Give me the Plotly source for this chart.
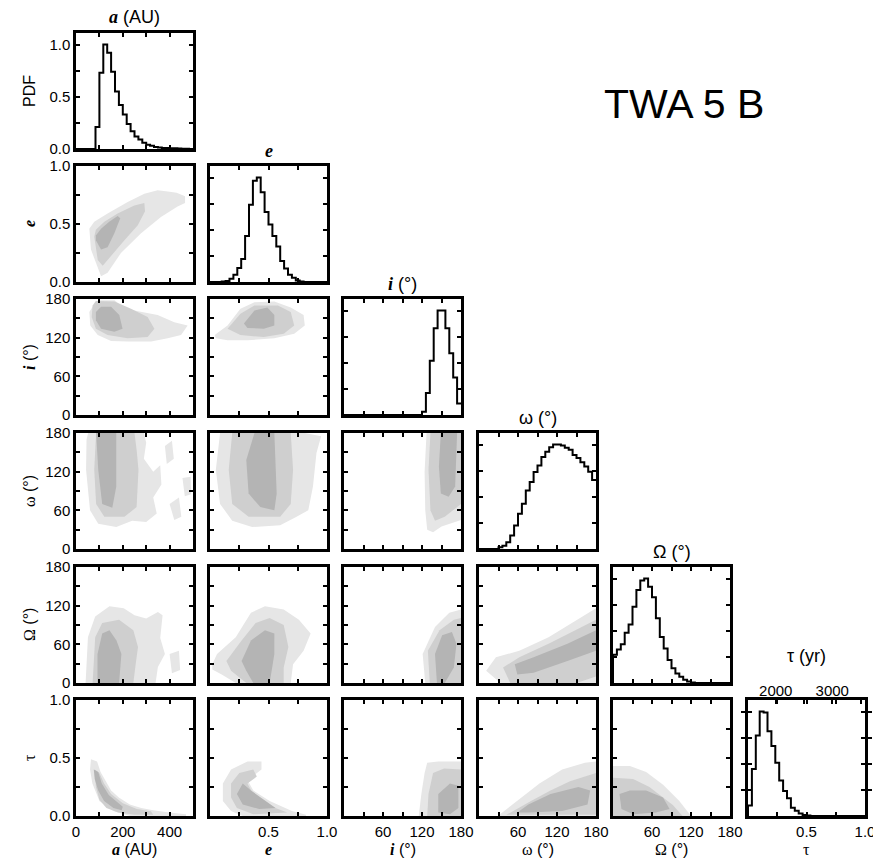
import numpy as np
import plotly.graph_objects as go

W, H = 881, 860
OX, OY = 8, 8             # page body margin
FW, FH = W - OX, H - OY   # figure size that fits the window

# marginal PDFs, 30 bins per parameter, peak = 1
hist_a = [0, 0, 0, 0, 0, 0.21, 0.73, 1.0, 0.92, 0.74, 0.55, 0.42, 0.33, 0.24, 0.17,
          0.12, 0.09, 0.06, 0.04, 0.03, 0.02, 0.015, 0.01, 0.01, 0.008, 0.006, 0.004, 0.003, 0.002, 0]
hist_e = [0, 0, 0, 0.005, 0.01, 0.03, 0.07, 0.135, 0.22, 0.44, 0.74, 0.97, 1.0, 0.86, 0.67,
          0.55, 0.44, 0.34, 0.2, 0.13, 0.07, 0.04, 0.015, 0.005, 0, 0, 0, 0, 0, 0]
hist_i = [0, 0, 0, 0, 0, 0, 0, 0, 0, 0, 0, 0, 0, 0, 0,
          0, 0, 0, 0, 0, 0.03, 0.21, 0.52, 0.83, 1.0, 1.0, 0.83, 0.59, 0.36, 0.11]
hist_w = [0, 0, 0, 0, 0, 0.016, 0.03, 0.064, 0.128, 0.224, 0.337, 0.433, 0.56, 0.64, 0.737,
          0.8, 0.88, 0.93, 0.974, 1.0, 1.0, 0.99, 0.97, 0.95, 0.9, 0.87, 0.83, 0.79, 0.74, 0.66]
hist_O = [0.27, 0.32, 0.37, 0.48, 0.56, 0.73, 0.89, 0.98, 1.0, 0.92, 0.82, 0.62, 0.44, 0.33, 0.22,
          0.14, 0.09, 0.06, 0.03, 0.015, 0.005, 0, 0, 0, 0, 0, 0, 0, 0, 0]
hist_t = [0.1, 0.45, 0.77, 1.0, 0.99, 0.81, 0.67, 0.51, 0.34, 0.24, 0.17, 0.08, 0.05, 0.025, 0.01,
          0.004, 0, 0, 0, 0, 0, 0, 0, 0, 0, 0, 0, 0, 0, 0]

c_a_e = [
    [(57, .46), (78, .52), (135, .59), (221, .69), (292, .76), (349, .79), (392, .78), (430, .77),
     (466, .74), (466, .68), (434, .65), (363, .56), (278, .42), (192, .25), (135, .08), (107, .05), (64, .28)],
    [(78, .39), (85, .45), (121, .52), (178, .59), (249, .66), (292, .68), (295, .61), (264, .49),
     (207, .36), (150, .22), (114, .14), (93, .19)],
    [(85, .36), (85, .40), (107, .46), (142, .52), (178, .57), (189, .55), (164, .42), (135, .30), (107, .28)],
]
c_a_i = [
    [(57, 160), (78, 172), (100, 178), (165, 178), (192, 170), (249, 162), (349, 155), (420, 144),
     (477, 139), (449, 124), (392, 119), (321, 114), (221, 114), (150, 115), (93, 124), (61, 139)],
    [(71, 170), (85, 177), (164, 176), (235, 165), (306, 152), (335, 134), (306, 121), (221, 119),
     (135, 124), (85, 134), (67, 152)],
    [(85, 160), (107, 168), (150, 168), (185, 155), (199, 134), (164, 129), (107, 134), (85, 147)],
]
c_e_i = [
    [(.04, 124), (.15, 139), (.26, 165), (.38, 175), (.55, 176), (.69, 167), (.80, 155), (.81, 139),
     (.72, 126), (.55, 119), (.32, 116), (.15, 116), (.05, 119)],
    [(.15, 134), (.26, 157), (.38, 170), (.58, 170), (.69, 160), (.72, 139), (.63, 126), (.46, 121), (.26, 124)],
    [(.29, 142), (.38, 162), (.49, 167), (.55, 155), (.55, 139), (.46, 134), (.32, 135)],
]
c_a_w = [
    [(52, 180), (290, 180), (300, 165), (290, 140), (330, 120), (360, 130), (365, 100), (330, 80),
     (345, 55), (300, 42), (240, 44), (172, 34), (95, 39), (60, 60), (43, 123), (45, 170), None,
     (380, 160), (410, 168), (418, 140), (388, 132), None,
     (400, 70), (440, 80), (450, 50), (420, 45), None,
     (455, 110), (490, 112), (492, 85), (465, 82)],
    [(86, 180), (250, 180), (259, 154), (267, 123), (259, 65), (207, 50), (121, 50), (86, 70), (78, 123)],
    [(86, 180), (172, 180), (172, 97), (155, 64), (112, 70), (95, 123)],
]
c_e_w = [
    [(.086, 180), (.81, 180), (.95, 175), (.91, 149), (.88, 97), (.84, 60), (.74, 50), (.6, 37),
     (.36, 34), (.19, 44), (.086, 70), (.05, 123)],
    [(.19, 180), (.69, 180), (.71, 123), (.69, 70), (.6, 50), (.33, 50), (.19, 70), (.16, 123)],
    [(.38, 180), (.55, 180), (.57, 86), (.55, 60), (.43, 65), (.33, 86), (.31, 138)],
]
c_i_w = [
    [(127, 180), (180, 180), (180, 45), (165, 40), (150, 35), (137, 26), (128, 30), (125, 60), (124, 120)],
    [(133, 180), (180, 180), (180, 70), (155, 50), (140, 44), (133, 60), (130, 123)],
    [(149, 180), (174, 180), (171, 97), (161, 81), (149, 86), (146, 128)],
]
c_a_O = [
    [(41, 0), (45, 40), (51, 71), (82, 103), (143, 119), (204, 116), (250, 105), (300, 100), (350, 110),
     (370, 105), (360, 70), (380, 45), (350, 25), (340, 0), None,
     (400, 45), (440, 50), (445, 20), (410, 15)],
    [(71, 0), (82, 71), (112, 93), (184, 98), (245, 82), (265, 56), (255, 29), (245, 0)],
    [(92, 0), (92, 45), (112, 77), (143, 82), (173, 66), (194, 45), (184, 0)],
]
c_e_O = [
    [(.02, 29), (.06, 45), (.22, 71), (.35, 109), (.47, 119), (.63, 114), (.76, 98), (.86, 77),
     (.80, 50), (.71, 29), (.69, 0), (.22, 0), (.10, 13), (.02, 21)],
    [(.14, 34), (.27, 66), (.39, 93), (.51, 101), (.63, 90), (.67, 56), (.63, 24), (.63, 0), (.31, 0), (.18, 19)],
    [(.27, 34), (.35, 66), (.47, 82), (.55, 77), (.55, 45), (.51, 0), (.37, 0), (.31, 19)],
]
c_i_O = [
    [(125, 0), (121, 45), (140, 87), (162, 109), (180, 114), (180, 0)],
    [(132, 0), (129, 50), (147, 82), (169, 98), (180, 101), (180, 0)],
    [(143, 0), (140, 45), (151, 74), (166, 79), (173, 61), (169, 24), (155, 0)],
]
c_w_O = [
    [(33, 0), (11, 19), (26, 40), (62, 50), (107, 71), (151, 98), (180, 116), (180, 0)],
    [(48, 0), (37, 24), (62, 40), (107, 61), (158, 87), (180, 98), (180, 10), (150, 0)],
    [(59, 13), (55, 29), (84, 40), (136, 61), (180, 82), (180, 50), (136, 34), (84, 16)],
]
c_a_t = [
    [(64, .49), (90, .47), (105, .38), (124, .31), (150, .22), (183, .16), (230, .10), (279, .07),
     (330, .05), (398, .03), (470, .015), (470, 0), (231, 0), (160, .044), (100, .13), (70, .28), (60, .40)],
    [(80, .40), (100, .37), (120, .28), (150, .19), (200, .11), (260, .06), (320, .04), (330, .01),
     (250, .01), (180, .03), (130, .07), (100, .14), (85, .25)],
    [(76, .40), (95, .38), (110, .28), (140, .18), (200, .08), (195, .05), (160, .07), (120, .13), (95, .22), (80, .32)],
]
c_e_t = [
    [(.11, .28), (.18, .40), (.32, .47), (.44, .47), (.44, .40), (.32, .31), (.37, .22), (.51, .13),
     (.70, .044), (.82, .01), (.82, 0), (.28, 0), (.18, .044), (.11, .13)],
    [(.18, .28), (.25, .37), (.37, .40), (.40, .34), (.32, .28), (.37, .19), (.56, .07), (.66, .03),
     (.37, .015), (.23, .07), (.18, .16)],
    [(.23, .19), (.28, .28), (.35, .22), (.47, .13), (.56, .068), (.42, .06), (.28, .10)],
]
c_i_t = [
    [(128, .46), (145, .47), (180, .47), (180, 0), (115, 0), (119, .19), (124, .37)],
    [(137, .37), (154, .41), (180, .40), (180, 0), (128, 0), (130, .19)],
    [(145, .19), (163, .28), (176, .26), (176, .07), (163, .015), (145, .03)],
]
c_w_t = [
    [(29, 0), (59, .13), (93, .28), (128, .40), (163, .46), (180, .47), (180, 0)],
    [(42, .01), (60, .07), (80, .13), (110, .22), (140, .30), (180, .37), (180, .01)],
    [(59, .03), (76, .10), (110, .19), (153, .25), (171, .22), (167, .10), (128, .044), (76, .03)],
]
c_O_t = [
    [(0, .43), (26, .43), (51, .38), (77, .27), (102, .13), (120, 0), (0, 0)],
    [(0, .33), (31, .32), (56, .25), (92, .095), (107, 0), (0, 0)],
    [(10, .19), (26, .22), (51, .22), (77, .16), (87, .06), (66, .03), (31, .016), (13, .06)],
]

params = ["a", "e", "i", "w", "O", "t"]
hists = [hist_a, hist_e, hist_i, hist_w, hist_O, hist_t]
ranges = {"a": [0, 500], "e": [0, 1], "i": [0, 180], "w": [0, 180], "O": [0, 180], "t": [0, 1]}
tickv = {"a": [0, 100, 200, 300, 400, 500], "e": [0, .25, .5, .75, 1], "t": [0, .25, .5, .75, 1],
         "i": [0, 30, 60, 90, 120, 150, 180], "w": [0, 30, 60, 90, 120, 150, 180], "O": [0, 30, 60, 90, 120, 150, 180]}
xlab = {"a": ["0", "", "200", "", "400", ""], "e": ["", "", "0.5", "", "1.0"], "t": ["", "", "0.5", "", "1.0"],
        "i": ["", "", "60", "", "120", "", "180"], "w": ["", "", "60", "", "120", "", "180"],
        "O": ["", "", "60", "", "120", "", "180"]}
ylab = {"e": ["0.0", "", "0.5", "", "1.0"], "t": ["0.0", "", "0.5", "", "1.0"],
        "i": ["0", "", "60", "", "120", "", "180"], "w": ["0", "", "60", "", "120", "", "180"],
        "O": ["0", "", "60", "", "120", "", "180"]}
contours = {("a", "e"): c_a_e, ("a", "i"): c_a_i, ("e", "i"): c_e_i,
            ("a", "w"): c_a_w, ("e", "w"): c_e_w, ("i", "w"): c_i_w,
            ("a", "O"): c_a_O, ("e", "O"): c_e_O, ("i", "O"): c_i_O, ("w", "O"): c_w_O,
            ("a", "t"): c_a_t, ("e", "t"): c_e_t, ("i", "t"): c_i_t, ("w", "t"): c_w_t, ("O", "t"): c_O_t}
shades = ["#e6e6e6", "#cfcfcf", "#b4b4b4"]

# panel frames in page pixels
col_left = [76, 210, 344, 479, 613, 748]
row_top = [33, 166, 299, 433, 567, 700]
pw, ph = 117, 116


def fx(px):
    return (px - OX) / FW


def fy(py):
    return 1 - (py - OY) / FH


fig = go.Figure()
layout = {}
font = dict(family="Liberation Sans, Arial", size=15, color="black")
axis_style = dict(tickmode="array", ticks="inside", ticklen=4, tickwidth=1.5, tickcolor="black",
                  showline=True, linewidth=2.5, linecolor="black", mirror="allticks",
                  showgrid=False, zeroline=False, tickfont=font, automargin=False)
k = 0
for r in range(6):
    for c in range(r + 1):
        k += 1
        xs = "" if k == 1 else str(k)
        px_, py_ = params[c], params[r]
        xa = dict(domain=[fx(col_left[c]), fx(col_left[c] + pw)], range=ranges[px_],
                  tickvals=tickv[px_],
                  ticktext=xlab[px_] if r == 5 else [""] * len(tickv[px_]),
                  anchor="y" + xs, **axis_style)
        if r == c:
            yv = [0, .25, .5, .75, 1]
            yt = ["0.0", "", "0.5", "", "1.0"] if c == 0 else [""] * 5
            yr = [0, 1.11]
        else:
            yv = tickv[py_]
            yt = ylab[py_] if c == 0 else [""] * len(yv)
            yr = ranges[py_]
        ya = dict(domain=[fy(row_top[r] + ph), fy(row_top[r])], range=yr,
                  tickvals=yv, ticktext=yt, anchor="x" + xs, **axis_style)
        layout["xaxis" + xs] = xa
        layout["yaxis" + xs] = ya
        if r == c:
            h = hists[c]
            edges = np.linspace(ranges[px_][0], ranges[px_][1], len(h) + 1)
            fig.add_trace(go.Scatter(x=[edges[0]] + list(edges), y=[0] + h + [h[-1]],
                                     mode="lines", line=dict(color="black", width=2, shape="hv"),
                                     xaxis="x" + xs, yaxis="y" + xs, showlegend=False, hoverinfo="skip"))
        else:
            for lvl, poly in enumerate(contours[(px_, py_)]):
                fig.add_trace(go.Scatter(
                    x=[p[0] if p else None for p in poly], y=[p[1] if p else None for p in poly],
                    mode="lines", fill="toself", fillcolor=shades[lvl], line=dict(width=0),
                    xaxis="x" + xs, yaxis="y" + xs, showlegend=False, hoverinfo="skip"))
        if r == 5 and c == 5:
            tau_k = xs

# top epoch axis of the tau panel
top_style = dict(axis_style)
top_style.update(showline=False, mirror=False)
layout["xaxis30"] = dict(overlaying="x" + tau_k, side="top", anchor="y" + tau_k, range=[1509, 3579],
                         tickvals=[2000, 2500, 3000, 3500], ticktext=["2000", "", "3000", ""], **top_style)
fig.add_trace(go.Scatter(x=[2000, 3000], y=[0, 0], mode="markers", opacity=0,
                         xaxis="x30", yaxis="y" + tau_k, showlegend=False, hoverinfo="skip"))

SER = "<span style='font-family:Liberation Serif'>"
lab_top = [SER + "<b><i>a</i></b></span> (AU)", SER + "<b><i>e</i></b></span>",
           SER + "<b><i>i</i></b></span> (°)", "ω (°)", "Ω (°)", "τ (yr)"]
lab_bot = [SER + "<b><i>a</i></b></span> (AU)", SER + "<b><i>e</i></b></span>",
           SER + "<b><i>i</i></b></span> (°)", SER + "ω</span> (°)", SER + "Ω</span> (°)", SER + "τ</span>"]
lab_left = ["PDF", SER + "<b><i>e</i></b></span>", SER + "<b><i>i</i></b></span> (°)",
            SER + "ω</span> (°)", SER + "Ω</span> (°)", SER + "τ</span>"]
top_y = [17, 151, 284, 418, 552, 656]

ann = []
base = dict(xref="paper", yref="paper", showarrow=False, xanchor="center", yanchor="middle")
for j in range(6):
    cx = fx(col_left[j] + pw / 2)
    ann.append(dict(text=lab_top[j], x=cx, y=fy(top_y[j]),
                    font=dict(family="Liberation Sans, Arial", size=18, color="black"), **base))
    ann.append(dict(text=lab_bot[j], x=cx, y=fy(849),
                    font=dict(family="Liberation Sans, Arial", size=16, color="black"), **base))
    ann.append(dict(text=lab_left[j], x=fx(29), y=fy(row_top[j] + ph / 2), textangle=-90,
                    font=dict(family="Liberation Sans, Arial", size=16, color="black"), **base))
ann.append(dict(text="TWA 5 B", x=fx(684), y=fy(104),
                font=dict(family="Liberation Sans, Arial", size=41, color="black"), **base))

fig.update_layout(**layout)
fig.update_layout(width=FW, height=FH, margin=dict(l=0, r=0, t=0, b=0, pad=0),
                  paper_bgcolor="white", plot_bgcolor="white", annotations=ann)

fig.write_html("out.html")
